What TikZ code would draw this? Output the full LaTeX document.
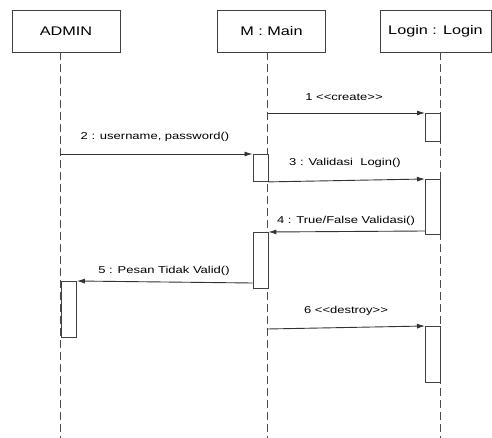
\documentclass[tikz,border=0pt]{standalone}
\usepackage{fontspec}
\newfontfamily\umlfont[FakeStretch=1.3]{Liberation Sans}
\usetikzlibrary{arrows.meta}

\tikzset{
  head/.style={draw=black!75, line width=0.9pt, minimum width=108pt, minimum height=42pt, inner sep=0pt, font=\umlfont\fontsize{12.5}{14}\selectfont},
  lifeline/.style={draw=black!70, line width=1pt, dash pattern=on 8pt off 4pt},
  activ/.style={draw=black!75, fill=white, line width=0.9pt, minimum width=15pt, inner sep=0pt, anchor=north west},
  msg/.style={draw=black!80, line width=0.9pt, -{Latex[length=8pt,width=5pt]}},
  lbl/.style={font=\umlfont\fontsize{10}{12}\selectfont, inner sep=0pt}
}

\begin{document}
\begin{tikzpicture}[x=1pt,y=-1pt]
  \useasboundingbox[fill=white] (0,0) rectangle (492,438);

  %%%%% heads %%%%%
  \node[head] (admin) at (66,31) {ADMIN};
  \node[head] (main) at (271.5,31) {M : Main};
  \node[head, minimum width=111pt] (login) at (435.5,31) {Login : Login};

  %%%%% lifelines %%%%%
  \draw[lifeline] (60,52) -- (60,438);
  \draw[lifeline] (267.5,52) -- (267.5,438);
  \draw[lifeline] (440,52) -- (440,438);

  %%%%% activations %%%%%
  \node[activ, minimum height=28pt] (lact1) at (425,113) {};
  \node[activ, minimum height=27pt] (mact1) at (252.5,154) {};
  \node[activ, minimum height=55pt] (lact2) at (425,179) {};
  \node[activ, minimum height=56pt] (mact2) at (252.5,232) {};
  \node[activ, minimum height=56pt] (aact) at (61,281) {};
  \node[activ, minimum height=56pt] (lact3) at (425,326) {};

  %%%%% messages %%%%%
  \coordinate (m1) at (267.5,113);
  \coordinate (a2) at (60,154);
  \coordinate (m6) at (267.5,329);

  \draw[msg] (m1) -- (lact1.north west);
  \draw[msg] (a2) -- (mact1.north west);
  \draw[msg] (mact1.south east) -- (lact2.north west);
  \draw[msg] (lact2.west |- 0,231) -- (mact2.north east);
  \draw[msg] (mact2.west |- 0,283) -- (aact.north east);
  \draw[msg] (m6) -- (lact3.north west);

  \node[lbl] (t1) at (344,97) {1 <{}<create>{}>};
  \node[lbl] (t2) at (155,137) {2 : username, password()};
  \node[lbl] (t3) at (345,163) {3 : Validasi~ Login()};
  \node[lbl] (t4) at (346,221) {4 : True/False Validasi()};
  \node[lbl] (t5) at (164,271) {5 : Pesan Tidak Valid()};
  \node[lbl] (t6) at (346,311) {6 <{}<destroy>{}>};
\end{tikzpicture}
\end{document}
